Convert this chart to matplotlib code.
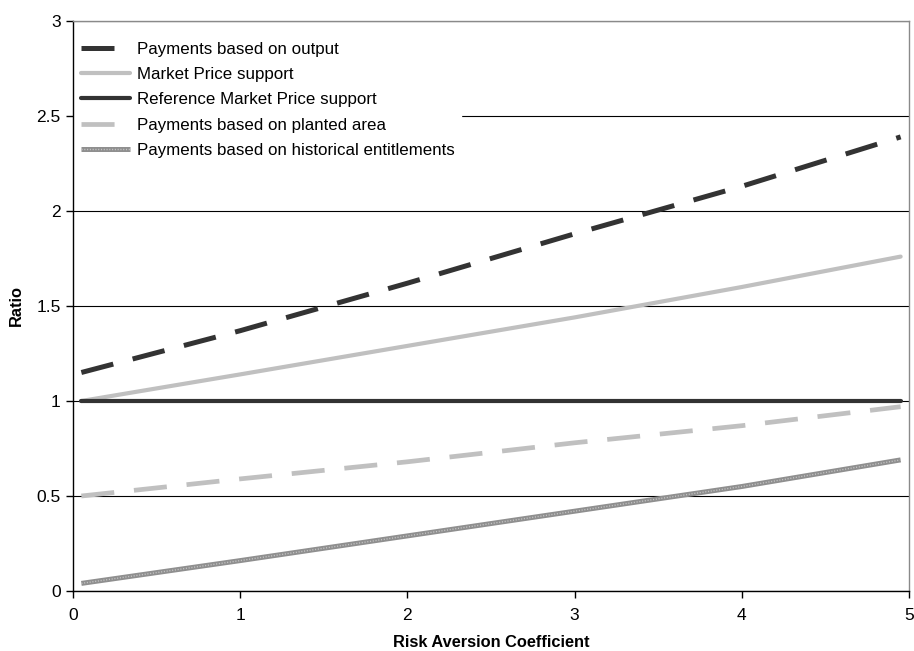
import matplotlib
matplotlib.use("Agg")
import matplotlib.pyplot as plt

plt.rcParams['font.family'] = ['Liberation Sans', 'DejaVu Sans']

# Risk aversion coefficient (x) and ratio values per instrument
risk_aversion = [0.05, 1, 2, 3, 4, 4.95]
payments_output = [1.15, 1.37, 1.62, 1.88, 2.13, 2.39]
market_price_support = [1.00, 1.14, 1.29, 1.44, 1.60, 1.76]
reference_mps = [1.00, 1.00, 1.00, 1.00, 1.00, 1.00]
payments_planted_area = [0.50, 0.59, 0.68, 0.78, 0.87, 0.97]
payments_historical = [0.04, 0.16, 0.29, 0.42, 0.55, 0.69]

x_ticks = [0, 1, 2, 3, 4, 5]
y_ticks = [0, 0.5, 1, 1.5, 2, 2.5, 3]
y_tick_labels = ["0", "0.5", "1", "1.5", "2", "2.5", "3"]

fig = plt.figure(figsize=(9.14, 6.51), dpi=100)
ax = fig.add_axes([73 / 914, 60 / 651, (909 - 73) / 914, (591 - 21) / 651])

dark = "#333333"
light = "#c0c0c0"

ax.plot(risk_aversion, payments_output, color=dark, lw=3.6,
        dashes=(6.6, 4.0), solid_capstyle="butt", dash_capstyle="butt",
        label="Payments based on output", zorder=3)
ax.plot(risk_aversion, market_price_support, color=light, lw=3.0,
        solid_capstyle="round", label="Market Price support", zorder=3)
ax.plot(risk_aversion, reference_mps, color=dark, lw=3.0,
        solid_capstyle="round", label="Reference Market Price support", zorder=3)
ax.plot(risk_aversion, payments_planted_area, color=light, lw=3.4,
        dashes=(7.0, 4.2), dash_capstyle="butt",
        label="Payments based on planted area", zorder=3)

# textured grey line: solid base with a fine light dotted overlay
hist_base, = ax.plot(risk_aversion, payments_historical, color="#8f8f8f", lw=3.6,
                     solid_capstyle="butt", zorder=3)
hist_dots, = ax.plot(risk_aversion, payments_historical, color="#c4c4c4", lw=1.0,
                     dashes=(0.8, 1.2), zorder=4)

ax.set_xlim(0, 5)
ax.set_ylim(0, 3)
ax.set_xticks(x_ticks)
ax.set_yticks(y_ticks)
ax.set_yticklabels(y_tick_labels)
ax.tick_params(axis="both", direction="out", length=5, width=1, colors="black",
               labelsize=12.5)
ax.tick_params(axis="x", pad=7)
ax.tick_params(axis="y", pad=4)

ax.yaxis.grid(True, color="black", lw=0.8, zorder=1)
ax.set_axisbelow(True)

for side in ("left", "bottom"):
    ax.spines[side].set_color("black")
    ax.spines[side].set_linewidth(1.0)
    ax.spines[side].set_zorder(6)
for side in ("top", "right"):
    ax.spines[side].set_color("#8a8a8a")
    ax.spines[side].set_linewidth(1.0)
    ax.spines[side].set_zorder(6)

ax.set_xlabel("Risk Aversion Coefficient", fontsize=11.8, fontweight="bold", labelpad=9)
ax.set_ylabel("Ratio", fontsize=11.8, fontweight="bold", labelpad=9)

handles, labels = ax.get_legend_handles_labels()
handles.append((hist_base, hist_dots))
labels.append("Payments based on historical entitlements")
leg = ax.legend(handles, labels, loc="upper left", bbox_to_anchor=(0.001, 0.975),
                borderaxespad=0, fontsize=12.2, frameon=True, fancybox=False,
                framealpha=1, facecolor="white", edgecolor="white",
                handlelength=2.9, handletextpad=0.4, labelspacing=0.6,
                borderpad=0.4)
leg.set_zorder(5)

fig.savefig("out.png", dpi=100)
